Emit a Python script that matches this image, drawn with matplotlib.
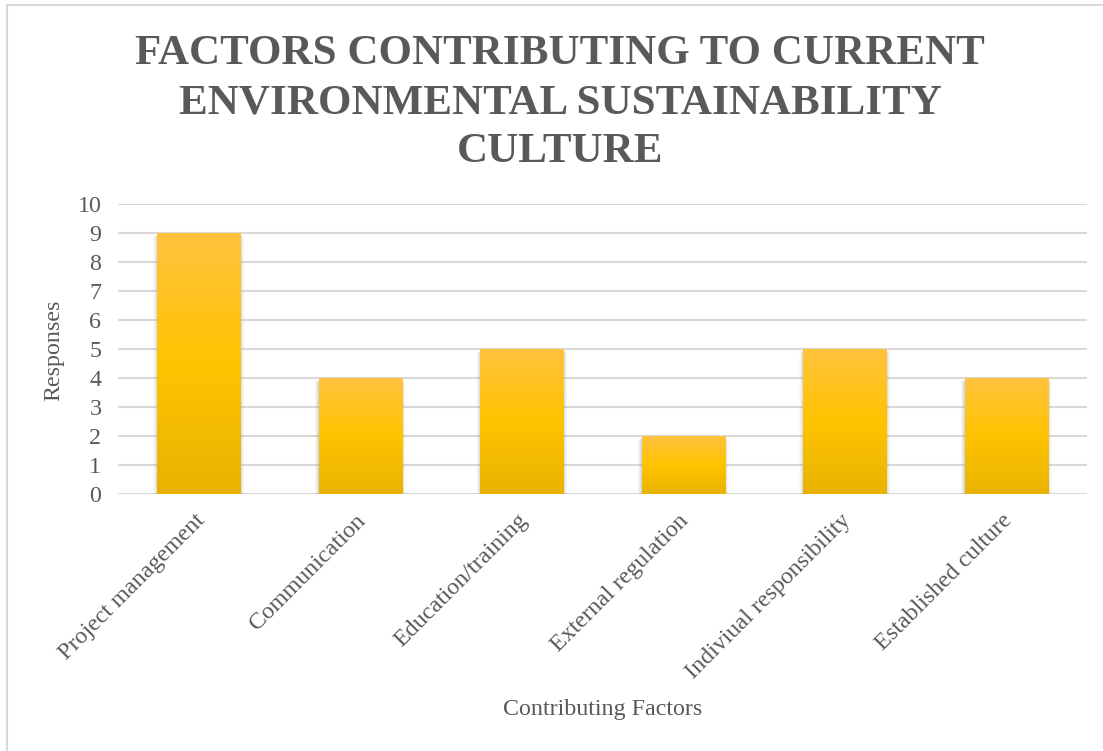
import numpy as np
import matplotlib
matplotlib.use("Agg")
import matplotlib.pyplot as plt
from matplotlib.colors import LinearSegmentedColormap
from matplotlib.lines import Line2D

categories = ["Project management", "Communication", "Education/training",
              "External regulation", "Indiviual responsibility", "Established culture"]
responses = [9, 4, 5, 2, 5, 4]
y_ticks = list(range(0, 11))
title = "FACTORS CONTRIBUTING TO CURRENT\nENVIRONMENTAL SUSTAINABILITY\nCULTURE"
x_label = "Contributing Factors"
y_label = "Responses"

W, H = 1103, 751
fig = plt.figure(figsize=(W / 100, H / 100), dpi=100)
fig.patch.set_facecolor("white")
serif = ["Liberation Serif", "DejaVu Serif"]
txt = "#595959"
fs = 17.3

# plot area: x 118..1087, y 204..494 (pixels)
ax = fig.add_axes([118 / W, 1 - 494 / H, (1087 - 118) / W, (494 - 204) / H])
ax.set_xlim(-0.5, len(categories) - 0.5)
ax.set_ylim(0, 10)
ax.set_yticks(y_ticks)
ax.set_yticklabels([str(t) for t in y_ticks], fontfamily=serif, fontsize=fs, color=txt)
ax.grid(axis="y", color="#D9D9D9", linewidth=1.5, zorder=0)
ax.set_axisbelow(True)
for s in ax.spines.values():
    s.set_visible(False)
ax.tick_params(axis="both", length=0)
ax.tick_params(axis="y", pad=12)

x = np.arange(len(categories))
bw = 0.515

# soft shadow
for k, a in zip(range(6, 0, -1), [0.03, 0.04, 0.05, 0.06, 0.07, 0.08]):
    dx = 0.004 * k
    ax.bar(x, responses, width=bw + 2 * dx, bottom=-0.06 - 0.012 * k,
           color="#7f7f7f", alpha=a, linewidth=0, zorder=2)

bars = ax.bar(x, responses, width=bw, color="#FFC000", linewidth=0, zorder=3)

cmap = LinearSegmentedColormap.from_list(
    "g", [(0.0, "#E8B300"), (0.5, "#FFC400"), (1.0, "#FFC23F")])
grad = np.linspace(0, 1, 256).reshape(-1, 1)
for b, v in zip(bars, responses):
    x0 = b.get_x()
    im = ax.imshow(grad, cmap=cmap, aspect="auto", origin="lower",
                   extent=[x0, x0 + bw, 0, v], zorder=4, interpolation="bilinear")
    im.set_clip_path(b)
ax.set_xlim(-0.5, len(categories) - 0.5)
ax.set_ylim(0, 10)

# category labels
ax.set_xticks(x)
ax.set_xticklabels([])
for xi, c in zip(x, categories):
    ax.text(xi - 0.03, -0.55, c, rotation=45, ha="right", va="top",
            rotation_mode="anchor", fontfamily=serif, fontsize=fs, color=txt,
            transform=ax.transData)

fig.text(603 / W, 1 - 709 / H, x_label, ha="center", va="center",
         fontfamily=serif, fontsize=fs, color=txt)
fig.text(54 / W, 1 - 350 / H, y_label, ha="center", va="center", rotation=90,
         fontfamily=serif, fontsize=fs, color=txt)

fig.text(560 / W, 1 - 103 / H, title, ha="center", va="center",
         fontfamily=serif, fontsize=31, fontweight="bold", color=txt,
         linespacing=1.37)

# chart-area border (left and top visible)
fig.add_artist(Line2D([6.5 / W, 6.5 / W], [0, 1 - 4.5 / H], transform=fig.transFigure,
                      color="#D9D9D9", linewidth=1.5))
fig.add_artist(Line2D([6.5 / W, 1], [1 - 4.5 / H, 1 - 4.5 / H], transform=fig.transFigure,
                      color="#D9D9D9", linewidth=1.5))

fig.savefig("out.png", dpi=100, facecolor="white")
